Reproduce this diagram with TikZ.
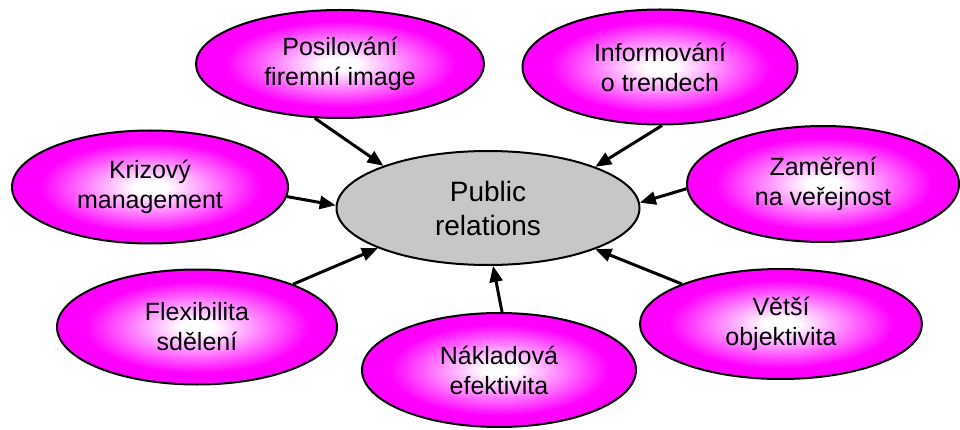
\documentclass[tikz,border=0pt]{standalone}
\usepackage{fontspec}
\setmainfont{Liberation Sans}
\usetikzlibrary{shapes.geometric,arrows.meta}

% soft white core fading to magenta towards the rim
\pgfdeclareradialshading{pinkglow}{\pgfpoint{0bp}{0bp}}{%
  color(0bp)=(white); color(3bp)=(white); color(20bp)=(magenta); color(50bp)=(magenta)}

\tikzset{
  topic/.style={ellipse, draw=black, line width=2pt, shading=pinkglow,
    inner sep=0pt, align=center, font=\fontsize{25}{30}\selectfont},
  hub/.style={ellipse, draw=black, line width=2pt, fill=black!22,
    inner sep=0pt, align=center, font=\fontsize{28}{34}\selectfont},
  link/.style={line width=3pt, -{Triangle[length=16pt,width=13pt]}}
}

\begin{document}
\begin{tikzpicture}[x=1pt,y=-1pt]
  \useasboundingbox (0,0) rectangle (960,430);

  \node[hub, minimum width=303pt, minimum height=114pt] (pr) at (488,208) {Public\\relations};

  \node[topic, minimum width=288pt, minimum height=108pt] (posil) at (340,64) {Posilování\\firemní image};
  \node[topic, minimum width=275pt, minimum height=115pt] (inform) at (660,67) {Informování\\o trendech};
  \node[topic, minimum width=276pt, minimum height=113pt] (kriz) at (150,187) {Krizový\\management};
  \node[topic, minimum width=272pt, minimum height=116pt] (zam) at (823,184) {Zaměření\\na veřejnost};
  \node[topic, minimum width=280pt, minimum height=115pt] (flex) at (197,327) {Flexibilita\\sdělení};
  \node[topic, minimum width=274pt, minimum height=114pt] (nakl) at (499,370) {Nákladová\\efektivita};
  \node[topic, minimum width=282pt, minimum height=110pt] (vetsi) at (781,324) {Větší\\objektivita};

  \draw[link] (posil.-115) -- (pr.158);
  \draw[link] (inform.-88) -- (pr.21);
  \draw[link] (kriz.-4) -- (pr.179);
  \draw[link] (zam.182) -- (pr.2);
  \draw[link] (flex.24) -- (pr.200);
  \draw[link] (nakl.87) -- (pr.-85);
  \draw[link] (vetsi.158) -- (pr.-21);
\end{tikzpicture}
\end{document}
